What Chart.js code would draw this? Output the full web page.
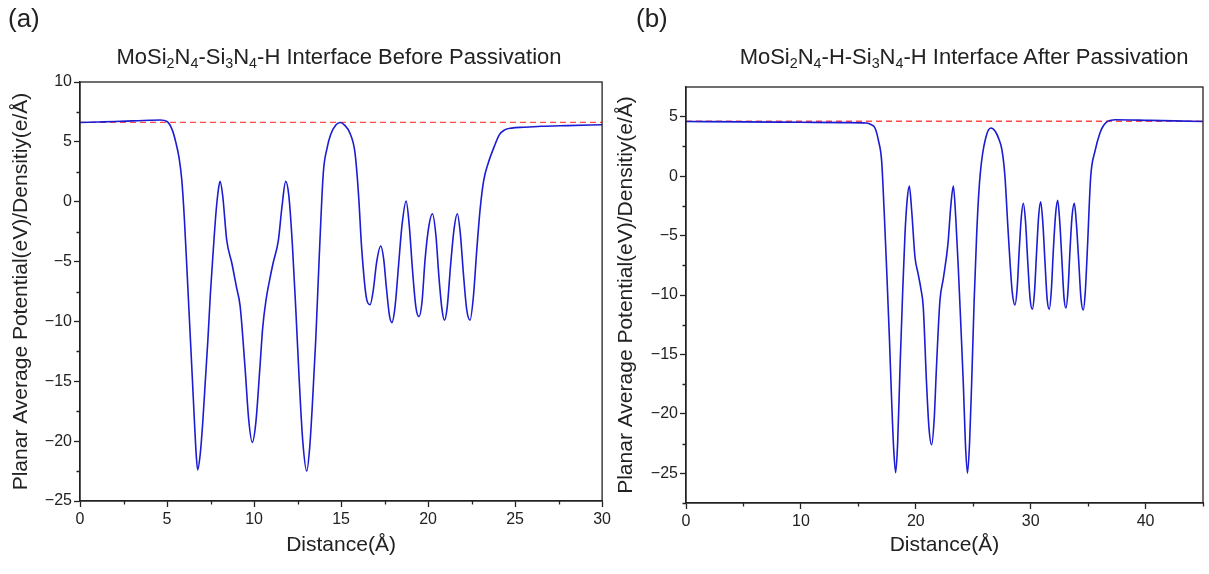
<!DOCTYPE html>
<html lang="en">
<head>
<meta charset="UTF-8">
<title>Planar Average Potential - MoSi2N4 / Si3N4 interface</title>
<script src="https://cdn.jsdelivr.net/npm/chart.js"></script>
<style>
    body {
        margin: 0;
        background: #fff;
        font-family: 'Liberation Sans', Arial, sans-serif;
        color: #222;
    }
    .panel {
        position: absolute;
        top: 0;
        width: 605px;
        height: 574px;
    }
    .tag {
        position: absolute;
        left: 8px;
        top: 3px;
        font-size: 26px;
    }
    .title {
        position: absolute;
        top: 44px;
        font-size: 22px;
        white-space: nowrap;
        transform: translateX(-50%);
    }
    sub {
        font-size: 0.65em;
        vertical-align: -0.3em;
        line-height: 0;
    }
    canvas {
        position: absolute;
        left: 0;
        top: 0;
    }
</style>
</head>
<body>
    <div class="panel" style="left:0">
        <canvas id="chartA" width="614" height="574"></canvas>
        <div class="tag">(a)</div>
        <div class="title" style="left:339px">MoSi<sub>2</sub>N<sub>4</sub>-Si<sub>3</sub>N<sub>4</sub>-H Interface Before Passivation</div>
    </div>
    <div class="panel" style="left:605px; width:604px">
        <canvas id="chartB" width="604" height="574"></canvas>
        <div class="tag" style="left:31px">(b)</div>
        <div class="title" style="left:359px">MoSi<sub>2</sub>N<sub>4</sub>-H-Si<sub>3</sub>N<sub>4</sub>-H Interface After Passivation</div>
    </div>

<script>
// (a) before passivation
const distA = [0, 1, 2, 3, 4, 4.6, 5.0, 5.3, 5.5, 5.7, 5.85, 6.0, 6.15, 6.3, 6.45, 6.58, 6.68, 6.76, 6.9, 7.05, 7.2, 7.35, 7.5, 7.66, 7.82, 7.95, 8.05, 8.2, 8.43, 8.72, 9.0, 9.2, 9.48, 9.7, 9.9, 10.1, 10.34, 10.5, 10.69, 10.9, 11.1, 11.4, 11.6, 11.82, 12.0, 12.2, 12.4, 12.6, 12.8, 13.03, 13.2, 13.35, 13.55, 13.75, 13.98, 14.2, 14.4, 14.7, 14.95, 15.2, 15.52, 15.8, 16.0, 16.19, 16.48, 16.67, 16.85, 17.05, 17.28, 17.45, 17.6, 17.78, 17.92, 18.1, 18.3, 18.5, 18.74, 18.92, 19.1, 19.3, 19.48, 19.65, 19.83, 20.05, 20.25, 20.45, 20.62, 20.8, 20.94, 21.1, 21.3, 21.5, 21.68, 21.85, 22.03, 22.22, 22.41, 22.6, 22.8, 23.0, 23.2, 23.45, 23.8, 24.1, 24.4, 24.8, 25.5, 26.5, 28.0, 30.0];
const potA = [6.62, 6.66, 6.7, 6.75, 6.8, 6.82, 6.7, 6.0, 5.0, 3.6, 1.8, -1.5, -5.8, -10.2, -14.6, -18.5, -21.2, -22.4, -21.2, -18.5, -15, -11.5, -7.5, -4.0, -0.8, 1.0, 1.7, 0.5, -3.2, -5.1, -7.2, -8.7, -13.8, -18.3, -20.1, -18.5, -13.8, -10.5, -8.2, -6.5, -5.1, -3.2, -0.5, 1.7, 0.5, -3.5, -9, -15, -20, -22.5, -20.5, -17, -11.4, -4.5, 2.4, 4.5, 5.6, 6.4, 6.62, 6.4, 5.7, 4.1, 0.7, -4.0, -8.2, -8.6, -7.4, -5.0, -3.7, -4.8, -7.1, -9.5, -10.1, -8.8, -5.4, -2.0, 0.05, -2.0, -5.6, -8.8, -9.6, -8.4, -4.8, -2.0, -1.0, -2.8, -6.2, -9.0, -9.9, -8.8, -5.2, -2.2, -1.0, -2.6, -6.0, -9.0, -9.9, -8.0, -4.0, -0.5, 1.8, 3.2, 4.6, 5.6, 6.0, 6.15, 6.22, 6.3, 6.36, 6.43];
const vacuumA = 6.62;
const xTicksA = [0, 5, 10, 15, 20, 25, 30];
const yTicksA = [-25, -20, -15, -10, -5, 0, 5, 10];

// (b) after passivation
const distB = [0, 5, 10, 14, 15.7, 16.1, 16.45, 16.75, 17.03, 17.25, 17.46, 17.7, 17.9, 18.08, 18.25, 18.42, 18.63, 18.85, 19.06, 19.25, 19.44, 19.65, 19.93, 20.2, 20.45, 20.65, 20.94, 21.15, 21.38, 21.6, 21.8, 22.1, 22.4, 22.8, 23.05, 23.27, 23.48, 23.7, 23.92, 24.14, 24.32, 24.5, 24.68, 24.86, 25.08, 25.3, 25.5, 25.73, 26.17, 26.55, 26.9, 27.2, 27.5, 27.76, 28.0, 28.2, 28.4, 28.63, 28.82, 29.0, 29.18, 29.36, 29.55, 29.74, 29.95, 30.14, 30.33, 30.52, 30.7, 30.87, 31.05, 31.24, 31.43, 31.62, 31.8, 31.97, 32.17, 32.35, 32.53, 32.72, 32.9, 33.07, 33.25, 33.42, 33.6, 33.8, 33.98, 34.18, 34.38, 34.58, 34.75, 34.93, 35.22, 35.6, 36.03, 36.3, 36.6, 37.0, 37.34, 40.4, 45];
const potB = [4.6, 4.57, 4.53, 4.5, 4.47, 4.35, 4.05, 3.0, 1.26, -3, -7.7, -13.5, -18.9, -23, -24.95, -22.5, -16.1, -10, -4.9, -2.0, -0.84, -3.0, -6.8, -8.2, -9.5, -11.0, -17.5, -21.2, -22.6, -20.5, -16.1, -10.5, -8.6, -5.7, -2.5, -0.84, -3.5, -7.7, -12.5, -17.5, -22.5, -25.0, -22.5, -17.5, -10.5, -4.9, -1.2, 1.26, 3.5, 4.05, 3.8, 3.2, 2.2, 0.0, -4.0, -7.2, -9.8, -10.84, -9.5, -6.3, -3.5, -2.29, -3.8, -7.1, -10.3, -11.2, -9.8, -6.3, -3.3, -2.15, -3.8, -7.1, -10.3, -11.2, -9.6, -6.3, -3.2, -2.04, -3.8, -7.1, -10.2, -11.1, -9.6, -6.3, -3.4, -2.29, -4.0, -7.1, -10.3, -11.26, -9.8, -6.3, -0.14, 2.1, 3.63, 4.2, 4.55, 4.7, 4.75, 4.69, 4.6];
const vacuumB = 4.62;
const xTicksB = [0, 10, 20, 30, 40];
const yTicksB = [-25, -20, -15, -10, -5, 0, 5];

const ink = '#222';
const yTitle = 'Planar Average Potential(eV)/Densitiy(e/\u00c5)';

function toPoints(xs, ys) {
    return xs.map((x, i) => ({ x: x, y: ys[i] }));
}

function minus(v) {
    return v < 0 ? '\u2212' + Math.abs(v) : '' + v;
}

// short minor ticks halfway between the major ones + closing box on top/right
const frame = {
    id: 'frame',
    afterDraw(chart) {
        const ctx = chart.ctx;
        const area = chart.chartArea;
        ctx.save();
        ctx.strokeStyle = ink;
        ctx.lineWidth = 1.3;
        ctx.beginPath();
        const sx = chart.scales.x;
        const xt = sx.ticks.map(t => t.value);
        for (let i = 0; i < xt.length; i++) {
            const next = i + 1 < xt.length ? xt[i + 1] : xt[i] + (xt[1] - xt[0]);
            const v = (xt[i] + next) / 2;
            if (v > sx.max) continue;
            const px = Math.round(sx.getPixelForValue(v)) + 0.5;
            ctx.moveTo(px, area.bottom);
            ctx.lineTo(px, area.bottom + 3.5);
        }
        const sy = chart.scales.y;
        const yt = sy.ticks.map(t => t.value);
        const step = yt[1] - yt[0];
        for (let v = yt[0] - step / 2; v < sy.max; v += step) {
            if (v < sy.min) continue;
            const py = Math.round(sy.getPixelForValue(v)) + 0.5;
            ctx.moveTo(area.left, py);
            ctx.lineTo(area.left - 3.5, py);
        }
        ctx.stroke();
        ctx.strokeRect(area.left, area.top, area.right - area.left, area.bottom - area.top);
        ctx.restore();
    }
};

function makeChart(id, cfg) {
    const ctx = document.getElementById(id).getContext('2d');
    return new Chart(ctx, {
        type: 'line',
        data: {
            datasets: [{
                data: toPoints(cfg.dist, cfg.pot),
                borderColor: '#1c1cd2',
                borderWidth: 1.6,
                pointRadius: 0,
                fill: false,
                cubicInterpolationMode: 'monotone'
            }, {
                data: [{ x: cfg.xMin, y: cfg.vacuum }, { x: cfg.xMax, y: cfg.vacuum }],
                borderColor: '#ff4a4a',
                borderWidth: 1.3,
                borderDash: [6, 4],
                pointRadius: 0,
                fill: false
            }]
        },
        options: {
            responsive: false,
            animation: false,
            devicePixelRatio: 1,
            layout: { padding: { left: 0, right: cfg.padRight, top: cfg.padTop, bottom: 0 } },
            plugins: {
                legend: { display: false },
                tooltip: { enabled: false }
            },
            scales: {
                x: {
                    type: 'linear',
                    min: cfg.xMin,
                    max: cfg.xMax,
                    afterBuildTicks(scale) { scale.ticks = cfg.xTicks.map(v => ({ value: v })); },
                    ticks: {
                        color: ink,
                        font: { family: 'Liberation Sans', size: 16 },
                        padding: 3,
                        maxRotation: 0,
                        autoSkip: false
                    },
                    grid: { drawOnChartArea: false, tickLength: 6, tickWidth: 1.3, tickColor: ink },
                    border: { color: ink, width: 1.3 },
                    title: {
                        display: true,
                        text: 'Distance(\u00c5)',
                        color: ink,
                        font: { family: 'Liberation Sans', size: 21 },
                        padding: { top: 0, bottom: 16 }
                    },
                    afterFit(scale) { scale.height = cfg.xHeight; }
                },
                y: {
                    type: 'linear',
                    min: cfg.yMin,
                    max: cfg.yMax,
                    afterBuildTicks(scale) { scale.ticks = cfg.yTicks.map(v => ({ value: v })); },
                    ticks: {
                        color: ink,
                        font: { family: 'Liberation Sans', size: 16 },
                        padding: 2,
                        autoSkip: false,
                        callback: minus
                    },
                    grid: { drawOnChartArea: false, tickLength: 6, tickWidth: 1.3, tickColor: ink },
                    border: { color: ink, width: 1.3 },
                    title: {
                        display: true,
                        text: yTitle,
                        color: ink,
                        font: { family: 'Liberation Sans', size: 21 },
                        padding: { top: 9, bottom: 0 }
                    },
                    afterFit(scale) { scale.width = cfg.yWidth; }
                }
            }
        },
        plugins: [frame]
    });
}

makeChart('chartA', {
    dist: distA, pot: potA, vacuum: vacuumA,
    xMin: 0, xMax: 30, xTicks: xTicksA,
    yMin: -25, yMax: 10, yTicks: yTicksA,
    padTop: 82, padRight: 3, yWidth: 80, xHeight: 73
});

makeChart('chartB', {
    dist: distB, pot: potB, vacuum: vacuumB,
    xMin: 0, xMax: 45, xTicks: xTicksB,
    yMin: -27.5, yMax: 7.5, yTicks: yTicksB,
    padTop: 87, padRight: 6, yWidth: 81, xHeight: 71
});
</script>
</body>
</html>
